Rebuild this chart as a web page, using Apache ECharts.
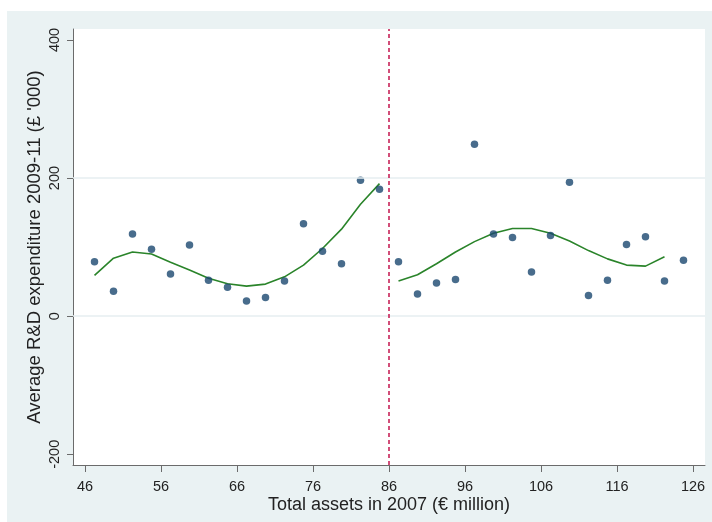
<!DOCTYPE html>
<html>
<head>
<meta charset="utf-8">
<script src="https://cdn.jsdelivr.net/npm/echarts@6/dist/echarts.min.js"></script>
<style>
  html, body { margin: 0; padding: 0; background: #ffffff; }
  #chart { width: 712px; height: 522px; }
</style>
</head>
<body>
<div id="chart"></div>
<script>
// Bin midpoints of total assets (€ million), below and above the 86 threshold
const assetsBelow = [47.25, 49.75, 52.25, 54.75, 57.25, 59.75, 62.25, 64.75, 67.25, 69.75, 72.25, 74.75, 77.25, 79.75, 82.25, 84.75];
const assetsAbove = [87.25, 89.75, 92.25, 94.75, 97.25, 99.75, 102.25, 104.75, 107.25, 109.75, 112.25, 114.75, 117.25, 119.75, 122.25, 124.75];

// Average R&D expenditure per bin (£ '000)
const rdBelow = [79, 36, 119, 97, 61, 103, 52, 42, 22, 27, 51, 134, 94, 76, 197, 184];
const rdAbove = [79, 32, 48, 53, 249, 119, 114, 64, 117, 194, 30, 52, 104, 115, 51, 81];

// Fitted values per bin
const fitBelow = [59, 84, 93, 90, 78, 67, 55, 47, 43.5, 46.5, 57, 74, 98, 126, 162, 192];
const fitAboveX = assetsAbove.slice(0, 15);
const fitAbove = [51, 60, 76, 93, 108, 120, 127, 127, 120, 109, 95, 83, 74, 72.5, 86];

// Threshold and tick labels
const threshold = 86;
const xTicks = [46, 56, 66, 76, 86, 96, 106, 116, 126];
const yTicks = [-200, 0, 200, 400];
const gridValues = [0, 200];

const pairs = (xs, ys) => xs.map((x, i) => [x, ys[i]]);

const FONT = '"Liberation Sans", Arial, sans-serif';
const NAVY = '#1a476f';
const GREEN = '#2a842a';
const AXIS = '#6b6b6b';

const chart = echarts.init(document.getElementById('chart'), null, { renderer: 'canvas' });

chart.setOption({
  animation: false,
  backgroundColor: '#ffffff',
  graphic: [
    {
      type: 'rect', z: -10, silent: true,
      shape: { x: 7, y: 11, width: 705, height: 511 },
      style: { fill: '#eaf2f3' }
    },
    {
      type: 'rect', z: -9, silent: true,
      shape: { x: 73, y: 29, width: 632, height: 436 },
      style: { fill: '#ffffff' }
    }
  ],
  grid: { left: 73, right: 7, top: 29, bottom: 57, containLabel: false },
  xAxis: {
    type: 'value',
    min: 44.42,
    max: 127.58,
    name: 'Total assets in 2007 (€ million)',
    nameLocation: 'middle',
    nameGap: 31,
    nameMoveOverlap: false,
    nameTextStyle: { fontFamily: FONT, fontSize: 18, color: '#222' },
    axisLine: { show: true, onZero: false, lineStyle: { color: AXIS, width: 1 } },
    axisTick: { show: true, length: 7, customValues: xTicks, lineStyle: { color: AXIS } },
    axisLabel: { customValues: xTicks, fontFamily: FONT, fontSize: 14.5, color: '#222', margin: 14 },
    splitLine: { show: false }
  },
  yAxis: {
    type: 'value',
    min: -215.5,
    max: 415.9,
    name: "Average R&D expenditure 2009-11 (£ '000)",
    nameLocation: 'middle',
    nameGap: 29,
    nameMoveOverlap: false,
    nameRotate: 90,
    nameTextStyle: { fontFamily: FONT, fontSize: 18.5, color: '#222' },
    axisLine: { show: true, onZero: false, lineStyle: { color: AXIS, width: 1 } },
    axisTick: { show: true, length: 6, customValues: yTicks, lineStyle: { color: AXIS } },
    axisLabel: { customValues: yTicks, rotate: 90, fontFamily: FONT, fontSize: 14.5, color: '#222', margin: 11 },
    splitLine: { show: false }
  },
  series: [
    {
      name: 'grid',
      type: 'line',
      data: [],
      silent: true,
      markLine: {
        silent: true,
        symbol: ['none', 'none'],
        label: { show: false },
        lineStyle: { color: '#e6eef0', type: 'solid', width: 1.5 },
        data: gridValues.map(v => ({ yAxis: v }))
      },
      z: 1
    },
    {
      name: 'threshold',
      type: 'line',
      data: [],
      silent: true,
      markLine: {
        silent: true,
        symbol: ['none', 'none'],
        label: { show: false },
        lineStyle: { color: '#c4154d', type: [4, 3], width: 1.5 },
        data: [{ xAxis: threshold }]
      },
      z: 2
    },
    {
      name: 'fit below',
      type: 'line',
      data: pairs(assetsBelow, fitBelow),
      showSymbol: false,
      smooth: false,
      lineStyle: { color: GREEN, width: 1.6 },
      z: 3
    },
    {
      name: 'fit above',
      type: 'line',
      data: pairs(fitAboveX, fitAbove),
      showSymbol: false,
      smooth: false,
      lineStyle: { color: GREEN, width: 1.6 },
      z: 3
    },
    {
      name: 'below',
      type: 'scatter',
      data: pairs(assetsBelow, rdBelow),
      symbol: 'circle',
      symbolSize: 7.5,
      itemStyle: { color: NAVY },
      z: 4
    },
    {
      name: 'above',
      type: 'scatter',
      data: pairs(assetsAbove, rdAbove),
      symbol: 'circle',
      symbolSize: 7.5,
      itemStyle: { color: NAVY },
      z: 4
    }
  ]
});
</script>
</body>
</html>
